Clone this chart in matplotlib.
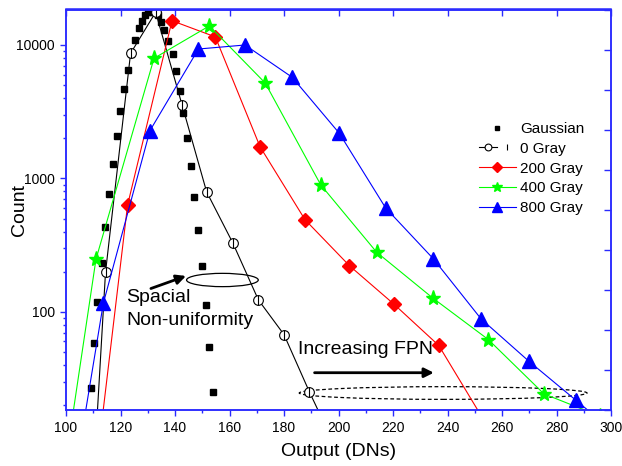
import matplotlib
matplotlib.use('Agg')
import matplotlib.pyplot as plt
from matplotlib.patches import Ellipse
from matplotlib.legend_handler import HandlerTuple
import numpy as np

plt.rcParams['font.family'] = ['Liberation Sans', 'DejaVu Sans']

# Data
gauss_x = [109.2, 110.3, 111.5, 113.1, 114.3, 115.8, 117.1, 118.6, 119.9, 121.3,
           122.8, 124.0, 125.3, 126.7, 127.9, 129.0, 130.2, 131.4, 132.7, 133.9,
           134.9, 136.1, 137.5, 139.2, 140.4, 141.8, 142.9, 144.3, 145.8, 147.1,
           148.3, 149.9, 151.3, 152.6, 154.1]
gauss_y = [27, 58, 119, 232, 429, 766, 1290, 2090, 3200, 4680,
           6530, 8560, 10900, 13300, 15200, 16800, 17600, 17800, 17600, 16800,
           14800, 13000, 10800, 8560, 6350, 4520, 3100, 2000, 1240, 730,
           410, 221, 113, 55, 25]

gray0_x = [105.1, 114.5, 123.7, 132.9, 142.6, 151.6, 161.2, 170.6, 180.0, 189.3, 198.6]
gray0_y = [0.1, 198, 8660, 17600, 3550, 794, 329, 123, 67.6, 25.2, 10]

gray200_x = [106.3, 122.6, 138.9, 154.8, 171.2, 187.7, 204.0, 220.4, 236.8, 253.2]
gray200_y = [1.0, 632, 15200, 11500, 1730, 491, 222, 114, 56, 15.6]

gray400_x = [90.6, 111.0, 132.3, 152.6, 173.1, 193.5, 214.0, 234.6, 255.0, 275.4, 295.8]
gray400_y = [0.4, 248, 7950, 13900, 5190, 894, 280, 127, 62, 24.3, 16.6]

gray800_x = [96.3, 113.7, 130.8, 148.6, 165.7, 183.0, 200.3, 217.3, 234.8, 252.3, 269.8, 287.2, 304.6]
gray800_y = [0.8, 116, 2280, 9330, 10000, 5730, 2180, 601, 250, 88.7, 42.8, 21.7, 11]

axis_blue = '#2a2aff'

fig = plt.figure(figsize=(6.22, 4.66), dpi=100)
ax = fig.add_axes([66/622, 56/466, 545/622, 400.5/466])

h_gauss, = ax.plot(gauss_x, gauss_y, ls='none', marker='s', ms=5, color='black', label='Gaussian')
h0_line, = ax.plot(gray0_x, gray0_y, color='black', lw=0.8, marker='o', ms=7,
                   mfc='white', mec='black', mew=0.8)
h0_bar, = ax.plot(gray0_x, gray0_y, ls='none', marker='|', ms=7, mec='black', mew=0.8)
h200, = ax.plot(gray200_x, gray200_y, color='#ff0000', lw=0.8, marker='D', ms=7, label='200 Gray')
h400, = ax.plot(gray400_x, gray400_y, color='#00ff00', lw=0.8, marker='*', ms=11, label='400 Gray')
h800, = ax.plot(gray800_x, gray800_y, color='#0000ff', lw=0.8, marker='^', ms=10, label='800 Gray')

ax.set_yscale('log')
ax.set_xlim(100, 300)
ax.set_ylim(18.4, 18450)
ax.set_xticks(range(100, 301, 20))
ax.set_xticks(range(100, 301, 10), minor=True)
ax.set_yticks([100, 1000, 10000])
ax.set_yticklabels(['100', '1000', '10000'])
ax.yaxis.set_minor_formatter(matplotlib.ticker.NullFormatter())
ax.tick_params(which='major', direction='out', length=4.5, width=1, color=axis_blue,
               labelcolor='black', labelsize=10)
ax.tick_params(which='minor', direction='out', length=2.5, width=1, color=axis_blue)
for sp in ax.spines.values():
    sp.set_color(axis_blue)
    sp.set_linewidth(1.1)

ax.set_xlabel('Output (DNs)', fontsize=14, labelpad=6)
ax.set_ylabel('Count', fontsize=14)
ax.yaxis.set_label_coords(-0.070, 0.5)

# top axis ticks (inward, no labels)
top = ax.secondary_xaxis('top')
top.set_xticks(range(100, 301, 20))
top.tick_params(direction='in', length=5, width=1, color=axis_blue, labeltop=False)
top.spines['top'].set_color(axis_blue)
top.spines['top'].set_linewidth(1.1)

# right axis ticks (linear, inward, no labels)
axr = ax.twinx()
axr.set_ylim(0, 1)
axr.set_yticks(np.linspace(0, 1, 11))
axr.tick_params(direction='in', length=5, width=1, color=axis_blue, labelright=False)
for sp in axr.spines.values():
    sp.set_color(axis_blue)
    sp.set_linewidth(1.1)

# annotations
ax.add_patch(Ellipse((0.287, 0.3246), 0.1316, 0.0332, transform=ax.transAxes,
                     fill=False, ec='black', lw=0.9))
ax.annotate('', xy=(0.225, 0.337), xytext=(0.151, 0.301), xycoords='axes fraction',
            arrowprops=dict(arrowstyle='-|>', color='black', lw=2, mutation_scale=14))
ax.text(0.110, 0.252, 'Spacial\nNon-uniformity', transform=ax.transAxes,
        fontsize=14, ha='left', va='center', linespacing=1.45)

ax.text(0.426, 0.152, 'Increasing FPN', transform=ax.transAxes,
        fontsize=14, ha='left', va='center')
ax.annotate('', xy=(0.680, 0.0931), xytext=(0.451, 0.0931), xycoords='axes fraction',
            arrowprops=dict(arrowstyle='-|>', color='black', lw=2, mutation_scale=14))
ax.add_patch(Ellipse((0.692, 0.0424), 0.528, 0.0317, transform=ax.transAxes,
                     fill=False, ec='black', lw=0.9, ls=(0, (3, 2))))

ax.legend([h_gauss, (h0_line, h0_bar), h200, h400, h800],
          ['Gaussian', '0 Gray', '200 Gray', '400 Gray', '800 Gray'],
          handler_map={tuple: HandlerTuple(ndivide=None)},
          loc='upper left', bbox_to_anchor=(479/622, 1 - 122/466),
          bbox_transform=fig.transFigure, frameon=False, fontsize=11,
          borderpad=0, borderaxespad=0, labelspacing=0.38,
          handlelength=2.4, handletextpad=0.3, markerscale=0.7)

fig.savefig('out.png', dpi=100)
